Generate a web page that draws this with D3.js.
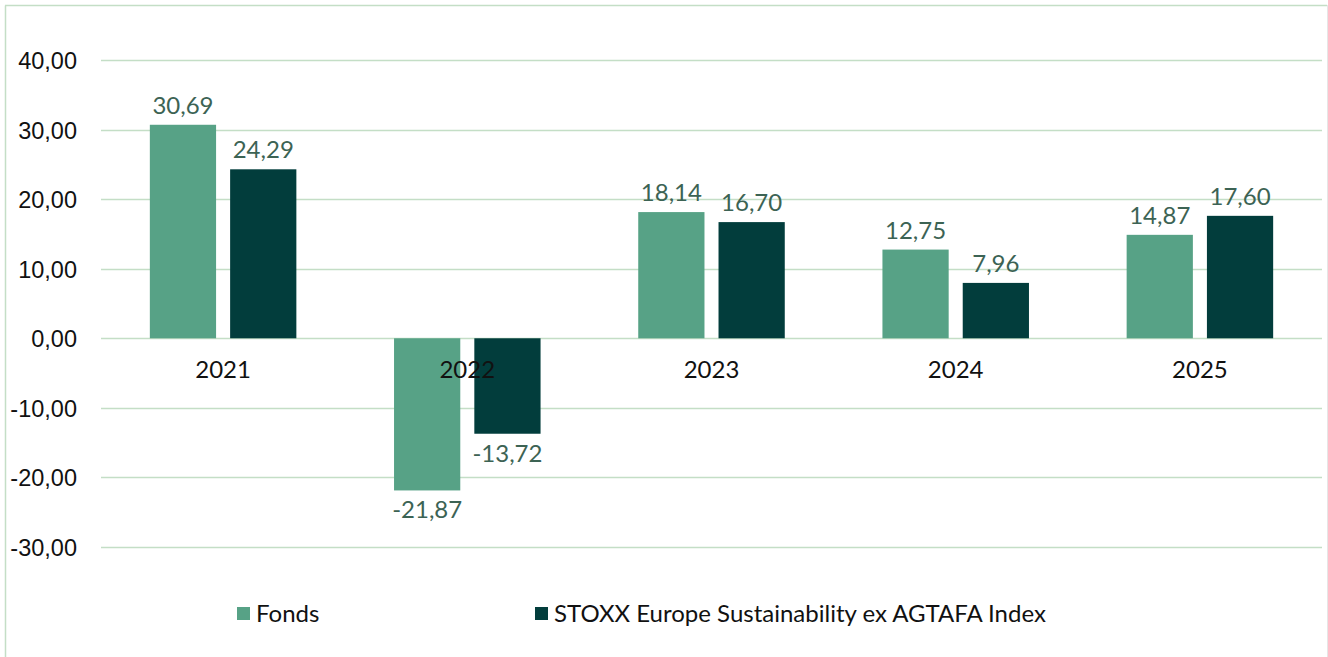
<!DOCTYPE html>
<html>
<head>
<meta charset="utf-8">
<script src="https://cdn.jsdelivr.net/npm/d3@7"></script>
<style>
  html, body { margin: 0; padding: 0; background: #fff; }
  svg { display: block; }
</style>
</head>
<body>
<script>
const categories = ["2021", "2022", "2023", "2024", "2025"];
const seriesNames = ["Fonds", "STOXX Europe Sustainability ex AGTAFA Index"];
const fondsValues = [30.69, -21.87, 18.14, 12.75, 14.87];
const indexValues = [24.29, -13.72, 16.70, 7.96, 17.60];
const yTicks = [-30, -20, -10, 0, 10, 20, 30, 40];
const seriesColors = ["#57A286", "#023D3C"];

const W = 1328, H = 657;
const svg = d3.select("body").append("svg").attr("width", W).attr("height", H);

// chart border
svg.append("line").attr("x1", 5.5).attr("x2", 5.5).attr("y1", 5.5).attr("y2", H).attr("stroke", "#C4DEC6").attr("stroke-width", 1.5);
svg.append("line").attr("x1", 5).attr("x2", 1327).attr("y1", 5.5).attr("y2", 5.5).attr("stroke", "#C4DEC6").attr("stroke-width", 1.5);
svg.append("line").attr("x1", 1327.5).attr("x2", 1327.5).attr("y1", 5).attr("y2", H).attr("stroke", "#E6E6E6").attr("stroke-width", 1);

const plotLeft = 101, plotRight = 1322;
const y = d3.scaleLinear().domain([-30, 40]).range([547, 60]);
const x0 = d3.scaleBand().domain(categories).range([plotLeft, plotRight]).paddingInner(0.4).paddingOuter(0.2);
const x1 = d3.scaleBand().domain(seriesNames).range([0, x0.bandwidth()]).paddingInner(0.175);

const fmt = v => d3.format(".2f")(v).replace(".", ",").replace("−", "-");

// gridlines
svg.append("g").selectAll("line").data(yTicks).join("line")
  .attr("x1", plotLeft).attr("x2", plotRight)
  .attr("y1", d => Math.round(y(d)) + 0.5).attr("y2", d => Math.round(y(d)) + 0.5)
  .attr("stroke", "#C4DEC6").attr("stroke-width", 1.5);

// y axis labels
svg.append("g").selectAll("text").data(yTicks).join("text")
  .attr("x", 77).attr("y", d => y(d) + 9)
  .attr("text-anchor", "end")
  .attr("font-family", "Liberation Sans, Arial, sans-serif")
  .attr("font-size", 23.5).attr("fill", "#111")
  .text(d => fmt(d));

const data = categories.map((c, i) => ({ cat: c, vals: [
  { s: seriesNames[0], v: fondsValues[i], c: seriesColors[0] },
  { s: seriesNames[1], v: indexValues[i], c: seriesColors[1] }
]}));

const groups = svg.append("g").selectAll("g").data(data).join("g")
  .attr("transform", d => `translate(${x0(d.cat)},0)`);

groups.selectAll("rect").data(d => d.vals).join("rect")
  .attr("x", d => x1(d.s))
  .attr("width", x1.bandwidth())
  .attr("y", d => y(Math.max(0, d.v)))
  .attr("height", d => Math.abs(y(d.v) - y(0)))
  .attr("fill", d => d.c);

// category labels (drawn above bars)
svg.append("g").selectAll("text").data(categories).join("text")
  .attr("x", d => x0(d) + x0.bandwidth() / 2)
  .attr("y", y(0) + 40)
  .attr("text-anchor", "middle")
  .attr("font-family", "Lato, sans-serif")
  .attr("font-size", 24).attr("fill", "#111")
  .text(d => d);

// data labels
groups.selectAll("text.val").data(d => d.vals).join("text")
  .attr("class", "val")
  .attr("x", d => x1(d.s) + x1.bandwidth() / 2)
  .attr("y", d => d.v >= 0 ? y(d.v) - 11 : y(d.v) + 28)
  .attr("text-anchor", "middle")
  .attr("font-family", "Lato, sans-serif")
  .attr("font-size", 24).attr("fill", "#3C6354")
  .text(d => fmt(d.v));

// legend
const legendX = [237, 535];
const legend = svg.append("g").selectAll("g").data(seriesNames).join("g")
  .attr("transform", (d, i) => `translate(${legendX[i]},607)`);
legend.append("rect").attr("width", 13).attr("height", 13).attr("fill", (d, i) => seriesColors[i]);
legend.append("text").attr("x", 19).attr("y", 14.5)
  .attr("font-family", "Lato, sans-serif").attr("font-size", 24).attr("fill", "#111")
  .text(d => d);
</script>
</body>
</html>
